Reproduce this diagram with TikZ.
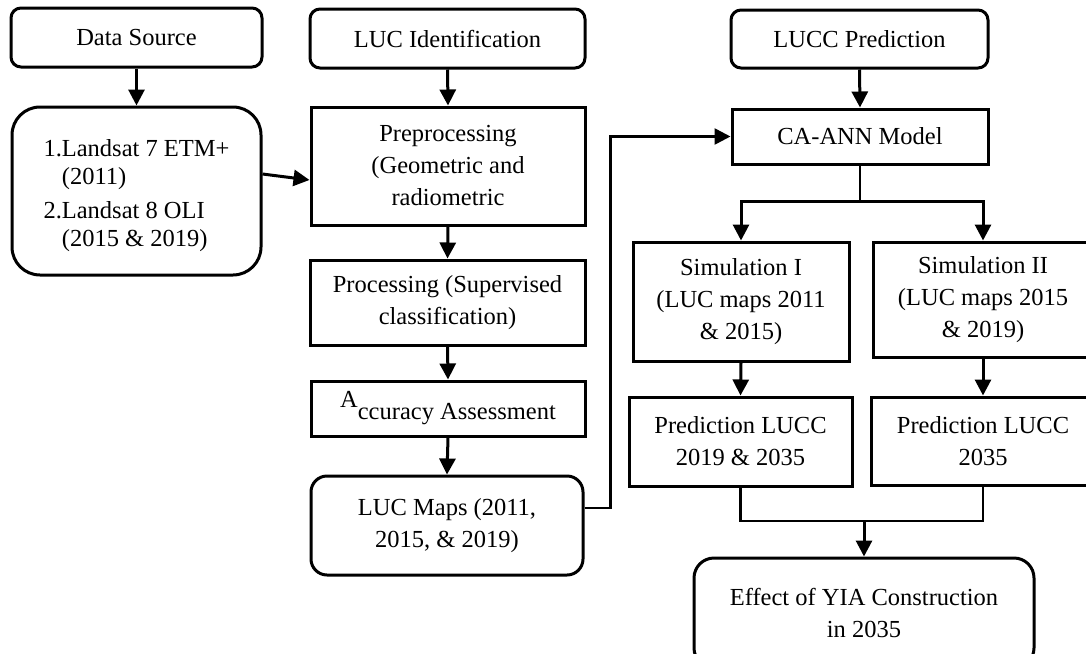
\documentclass[tikz,border=0pt]{standalone}
\usepackage{fontspec}
\setmainfont{Liberation Serif}
\usetikzlibrary{arrows.meta,calc}
\begin{document}
\begin{tikzpicture}[x=1pt,y=-1pt,
  box/.style={draw, line width=3pt, align=center, inner sep=0pt,
    font=\fontsize{24.5}{32}\selectfont},
  rbox/.style={box, rounded corners=10pt},
  arr/.style={line width=3pt, -{Triangle[width=16pt,length=16pt]}},
  ln/.style={line width=2.6pt}]
\useasboundingbox (0,0) rectangle (1086,653);
% left column
\node[rbox, minimum width=251pt, minimum height=59pt] (ds) at (136.5,37.5) {Data Source};
\node[box, rounded corners=28pt, minimum width=249pt, minimum height=168pt] (ls) at (136.5,191)
  {\raisebox{0pt}[\dimexpr\height+9pt][\depth]{\begin{tabular}{@{}l@{}l@{}}1.&Landsat 7 ETM+\\[-4pt] &(2011)\\[2pt] 2.&Landsat 8 OLI\\[-4pt] &(2015 \& 2019)\end{tabular}}};
% middle column
\node[rbox, minimum width=275pt, minimum height=59pt] (luc) at (447.5,38.5) {LUC Identification};
\node[box, minimum width=274pt, minimum height=118pt] (pre) at (448,166) {Preprocessing\\(Geometric and\\radiometric};
\node[box, minimum width=275pt, minimum height=85pt] (proc) at (447.5,302.5) {Processing (Supervised\\classification)};
\node[box, minimum width=274pt, minimum height=55pt] (acc) at (448,408.5) {\raisebox{12pt}{A}ccuracy Assessment};
\node[box, rounded corners=16pt, minimum width=272pt, minimum height=99pt] (maps) at (447,525.5) {LUC Maps (2011,\\2015, \& 2019)};
% right column
\node[rbox, minimum width=257pt, minimum height=58pt] (lp) at (859.5,39) {LUCC Prediction};
\node[box, minimum width=256pt, minimum height=55pt] (ca) at (860,136.5) {CA-ANN Model};
\node[box, minimum width=216pt, minimum height=119pt] (s1) at (741,301.5) {Simulation I\\(LUC maps 2011\\\& 2015)};
\node[box, minimum width=220pt, minimum height=115pt] (s2) at (983,299.5) {Simulation II\\(LUC maps 2015\\\& 2019)};
\node[box, minimum width=223pt, minimum height=89pt] (p1) at (740.5,441.5) {Prediction LUCC\\2019 \& 2035};
\node[box, minimum width=224pt, minimum height=88pt] (p2) at (983,441) {Prediction LUCC\\2035};
\node[box, rounded corners=20pt, minimum width=340pt, minimum height=110pt] (eff) at (864,613) {Effect of YIA Construction\\in 2035};
% connectors
\draw[arr] (ds.south) -- (ls.north);
\draw[arr] ([yshift=17pt]ls.east) -- ([yshift=-14pt]pre.west);
\draw[arr] (luc.south) -- (pre.north);
\draw[arr] (pre.south) -- (proc.north);
\draw[arr] (proc.south) -- (acc.north);
\draw[arr] (acc.south) -- (maps.north);
\draw[arr, line width=2.6pt] ([yshift=17.5pt]maps.east) -- ++(26,0) |- (ca.west);
\draw[arr] (lp.south) -- (ca.north);
\draw[ln] (ca.south) -- ++(0,36) coordinate (br);
\draw[arr] (br) -| (s1.north);
\draw[arr] (br) -| (s2.north);
\draw[arr] (s1.south) -- (p1.north);
\draw[arr] (s2.south) -- (p2.north);
\coordinate (j) at (eff.north |- 0,521);
\draw[ln] (p1.south) |- (j) -| (p2.south);
\draw[arr] (j) -- (eff.north);
\end{tikzpicture}
\end{document}
